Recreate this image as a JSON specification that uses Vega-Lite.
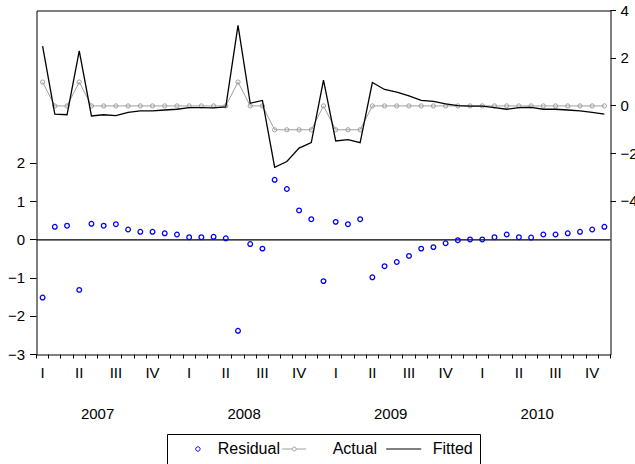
{
  "$schema": "https://vega.github.io/schema/vega-lite/v6.json",
  "width": 574,
  "height": 344,
  "autosize": "none",
  "padding": {"left": 36.5, "top": 10.5, "right": 24.5, "bottom": 109.5},
  "background": "white",
  "data": {"values": [
    {"t": 0, "Residual": -1.51, "Actual": 1, "Fitted": 2.51},
    {"t": 1, "Residual": 0.34, "Actual": 0, "Fitted": -0.34},
    {"t": 2, "Residual": 0.37, "Actual": 0, "Fitted": -0.37},
    {"t": 3, "Residual": -1.31, "Actual": 1, "Fitted": 2.31},
    {"t": 4, "Residual": 0.42, "Actual": 0, "Fitted": -0.42},
    {"t": 5, "Residual": 0.37, "Actual": 0, "Fitted": -0.37},
    {"t": 6, "Residual": 0.41, "Actual": 0, "Fitted": -0.41},
    {"t": 7, "Residual": 0.27, "Actual": 0, "Fitted": -0.27},
    {"t": 8, "Residual": 0.21, "Actual": 0, "Fitted": -0.21},
    {"t": 9, "Residual": 0.21, "Actual": 0, "Fitted": -0.21},
    {"t": 10, "Residual": 0.17, "Actual": 0, "Fitted": -0.17},
    {"t": 11, "Residual": 0.14, "Actual": 0, "Fitted": -0.14},
    {"t": 12, "Residual": 0.07, "Actual": 0, "Fitted": -0.07},
    {"t": 13, "Residual": 0.07, "Actual": 0, "Fitted": -0.07},
    {"t": 14, "Residual": 0.08, "Actual": 0, "Fitted": -0.08},
    {"t": 15, "Residual": 0.04, "Actual": 0, "Fitted": -0.04},
    {"t": 16, "Residual": -2.38, "Actual": 1, "Fitted": 3.38},
    {"t": 17, "Residual": -0.11, "Actual": 0, "Fitted": 0.11},
    {"t": 18, "Residual": -0.23, "Actual": 0, "Fitted": 0.23},
    {"t": 19, "Residual": 1.57, "Actual": -1, "Fitted": -2.57},
    {"t": 20, "Residual": 1.33, "Actual": -1, "Fitted": -2.33},
    {"t": 21, "Residual": 0.77, "Actual": -1, "Fitted": -1.77},
    {"t": 22, "Residual": 0.54, "Actual": -1, "Fitted": -1.54},
    {"t": 23, "Residual": -1.08, "Actual": 0, "Fitted": 1.08},
    {"t": 24, "Residual": 0.47, "Actual": -1, "Fitted": -1.47},
    {"t": 25, "Residual": 0.41, "Actual": -1, "Fitted": -1.41},
    {"t": 26, "Residual": 0.54, "Actual": -1, "Fitted": -1.54},
    {"t": 27, "Residual": -0.98, "Actual": 0, "Fitted": 0.98},
    {"t": 28, "Residual": -0.69, "Actual": 0, "Fitted": 0.69},
    {"t": 29, "Residual": -0.58, "Actual": 0, "Fitted": 0.58},
    {"t": 30, "Residual": -0.42, "Actual": 0, "Fitted": 0.42},
    {"t": 31, "Residual": -0.23, "Actual": 0, "Fitted": 0.23},
    {"t": 32, "Residual": -0.19, "Actual": 0, "Fitted": 0.19},
    {"t": 33, "Residual": -0.09, "Actual": 0, "Fitted": 0.09},
    {"t": 34, "Residual": -0.01, "Actual": 0, "Fitted": 0.01},
    {"t": 35, "Residual": 0.01, "Actual": 0, "Fitted": -0.01},
    {"t": 36, "Residual": 0.01, "Actual": 0, "Fitted": -0.01},
    {"t": 37, "Residual": 0.07, "Actual": 0, "Fitted": -0.07},
    {"t": 38, "Residual": 0.14, "Actual": 0, "Fitted": -0.14},
    {"t": 39, "Residual": 0.07, "Actual": 0, "Fitted": -0.07},
    {"t": 40, "Residual": 0.06, "Actual": 0, "Fitted": -0.06},
    {"t": 41, "Residual": 0.14, "Actual": 0, "Fitted": -0.14},
    {"t": 42, "Residual": 0.14, "Actual": 0, "Fitted": -0.14},
    {"t": 43, "Residual": 0.17, "Actual": 0, "Fitted": -0.17},
    {"t": 44, "Residual": 0.21, "Actual": 0, "Fitted": -0.21},
    {"t": 45, "Residual": 0.27, "Actual": 0, "Fitted": -0.27},
    {"t": 46, "Residual": 0.34, "Actual": 0, "Fitted": -0.34}
  ]},
  "transform": [{"fold": ["Residual", "Actual", "Fitted"], "as": ["series", "value"]}],
  "layer": [
    {
      "layer": [
        {
          "transform": [{"filter": "datum.t === 0 && datum.series === 'Residual'"}],
          "mark": {"type": "rule", "color": "#000", "strokeWidth": 1.2},
          "encoding": {
            "y": {
              "datum": 0, "type": "quantitative",
              "scale": {"domain": [-3, 6], "nice": false, "zero": false},
              "axis": {"orient": "left", "title": null, "domain": false, "grid": false, "values": [-3, -2, -1, 0, 1, 2], "tickSize": 6.5, "labelPadding": 5}
            }
          }
        },
        {
          "transform": [{"filter": "datum.series === 'Residual'"}],
          "mark": {"type": "point", "filled": false, "size": 22, "strokeWidth": 1.25, "opacity": 1},
          "encoding": {
            "x": {
              "field": "t", "type": "quantitative",
              "scale": {"domain": [-0.5, 46.5], "nice": false, "zero": false},
              "axis": {
                "orient": "bottom", "title": null, "domain": false, "grid": false,
                "values": [-0.5, 0.5, 1.5, 2.5, 3.5, 4.5, 5.5, 6.5, 7.5, 8.5, 9.5, 10.5, 11.5, 12.5, 13.5, 14.5, 15.5, 16.5, 17.5, 18.5, 19.5, 20.5, 21.5, 22.5, 23.5, 24.5, 25.5, 26.5, 27.5, 28.5, 29.5, 30.5, 31.5, 32.5, 33.5, 34.5, 35.5, 36.5, 37.5, 38.5, 39.5, 40.5, 41.5, 42.5, 43.5, 44.5, 45.5, 46.5],
                "labelExpr": "(round(datum.value + 0.5) % 12) == 0 ? 'I' : (round(datum.value + 0.5) % 12) == 3 ? 'II' : (round(datum.value + 0.5) % 12) == 6 ? 'III' : (round(datum.value + 0.5) % 12) == 9 ? 'IV' : ''",
                "labelOffset": 6.1, "labelOverlap": false, "labelFlush": false, "labelBound": false,
                "tickSize": 4, "labelPadding": 7.6
              }
            },
            "y": {
              "field": "value", "type": "quantitative",
              "scale": {"domain": [-3, 6], "nice": false, "zero": false},
              "axis": {"orient": "left", "title": null, "domain": false, "grid": false, "values": [-3, -2, -1, 0, 1, 2], "tickSize": 6.5, "labelPadding": 5}
            },
            "color": {
              "field": "series", "type": "nominal",
              "scale": {"domain": ["Residual", "Actual", "Fitted"], "range": ["#0000ff", "#a0a0a0", "#000000"]},
              "legend": {
                "title": null, "orient": "none", "direction": "horizontal",
                "legendX": 130.5, "legendY": 423.5,
                "strokeColor": "#000", "fillColor": "white", "padding": 7,
                "labelFont": "Liberation Sans", "labelFontSize": 16, "labelColor": "#000",
                "symbolSize": 196, "labelOffset": 27.7, "columnPadding": 0,
                "symbolFillColor": "transparent", "symbolStrokeWidth": 1, "symbolOpacity": 1
              }
            }
          }
        },
        {
          "transform": [{"filter": "false"}],
          "mark": {"type": "point", "filled": false, "strokeWidth": 1, "opacity": 1},
          "encoding": {
            "color": {
              "field": "series", "type": "nominal",
              "scale": {"domain": ["Residual", "Actual", "Fitted"], "range": ["#0000ff", "#a0a0a0", "#000000"]},
              "legend": {
                "title": null, "orient": "none", "direction": "horizontal",
                "legendX": 130.5, "legendY": 423.5,
                "strokeColor": "#000", "fillColor": "white", "padding": 7,
                "labelFont": "Liberation Sans", "labelFontSize": 16, "labelColor": "#000",
                "symbolSize": 196, "labelOffset": 27.7, "columnPadding": 0,
                "symbolFillColor": "transparent", "symbolStrokeWidth": 1, "symbolOpacity": 1
              }
            },
            "shape": {
              "field": "series", "type": "nominal",
              "scale": {
                "domain": ["Residual", "Actual", "Fitted"],
                "range": [
                  "M2.585,0A0.314,0.314 0 1,1 1.957,0A0.314,0.314 0 1,1 2.585,0",
                  "M-2.114,0L-0.686,0M-0.114,0L1.314,0M-0.114,0A0.286,0.286 0 1,1 -0.686,0A0.286,0.286 0 1,1 -0.114,0",
                  "M-2.371,0L-2.371,0M-1.543,0L3.457,0"
                ]
              },
              "legend": {
                "title": null, "orient": "none", "direction": "horizontal",
                "legendX": 130.5, "legendY": 423.5,
                "strokeColor": "#000", "fillColor": "white", "padding": 7,
                "labelFont": "Liberation Sans", "labelFontSize": 16, "labelColor": "#000",
                "symbolSize": 196, "labelOffset": 27.7, "columnPadding": 0,
                "symbolFillColor": "transparent", "symbolStrokeWidth": 1, "symbolOpacity": 1
              }
            }
          }
        }
      ]
    },
    {
      "encoding": {
        "x": {
          "field": "t", "type": "quantitative",
          "scale": {"domain": [-0.5, 46.5], "nice": false, "zero": false},
          "axis": {
            "orient": "bottom", "title": null, "domain": false, "grid": false, "ticks": false, "tickSize": 0,
            "values": [4.5, 16.5, 28.5, 40.5],
            "labelExpr": "'' + (2007 + floor(datum.value / 12))",
            "labelOverlap": false, "labelFlush": false, "labelBound": false, "labelPadding": 52.2
          }
        },
        "y": {
          "field": "value", "type": "quantitative",
          "scale": {"domain": [-10.42, 4], "nice": false, "zero": false},
          "axis": {"orient": "right", "title": null, "domain": false, "grid": false, "values": [-4, -2, 0, 2, 4], "tickSize": 5.5, "labelPadding": 4.5}
        },
        "color": {"field": "series", "type": "nominal"}
      },
      "layer": [
        {"transform": [{"filter": "datum.series === 'Actual'"}], "mark": {"type": "line", "strokeWidth": 1}},
        {"transform": [{"filter": "datum.series === 'Actual'"}], "mark": {"type": "point", "filled": false, "size": 18, "strokeWidth": 1, "opacity": 1}},
        {"transform": [{"filter": "datum.series === 'Fitted'"}], "mark": {"type": "line", "strokeWidth": 1.3}}
      ]
    }
  ],
  "resolve": {"scale": {"y": "independent"}, "axis": {"x": "independent", "y": "independent"}},
  "config": {
    "view": {"stroke": "#000", "strokeWidth": 1},
    "axis": {"labelFont": "Liberation Sans", "labelFontSize": 15, "labelColor": "#000", "tickColor": "#000", "tickWidth": 1, "translate": 0}
  }
}
